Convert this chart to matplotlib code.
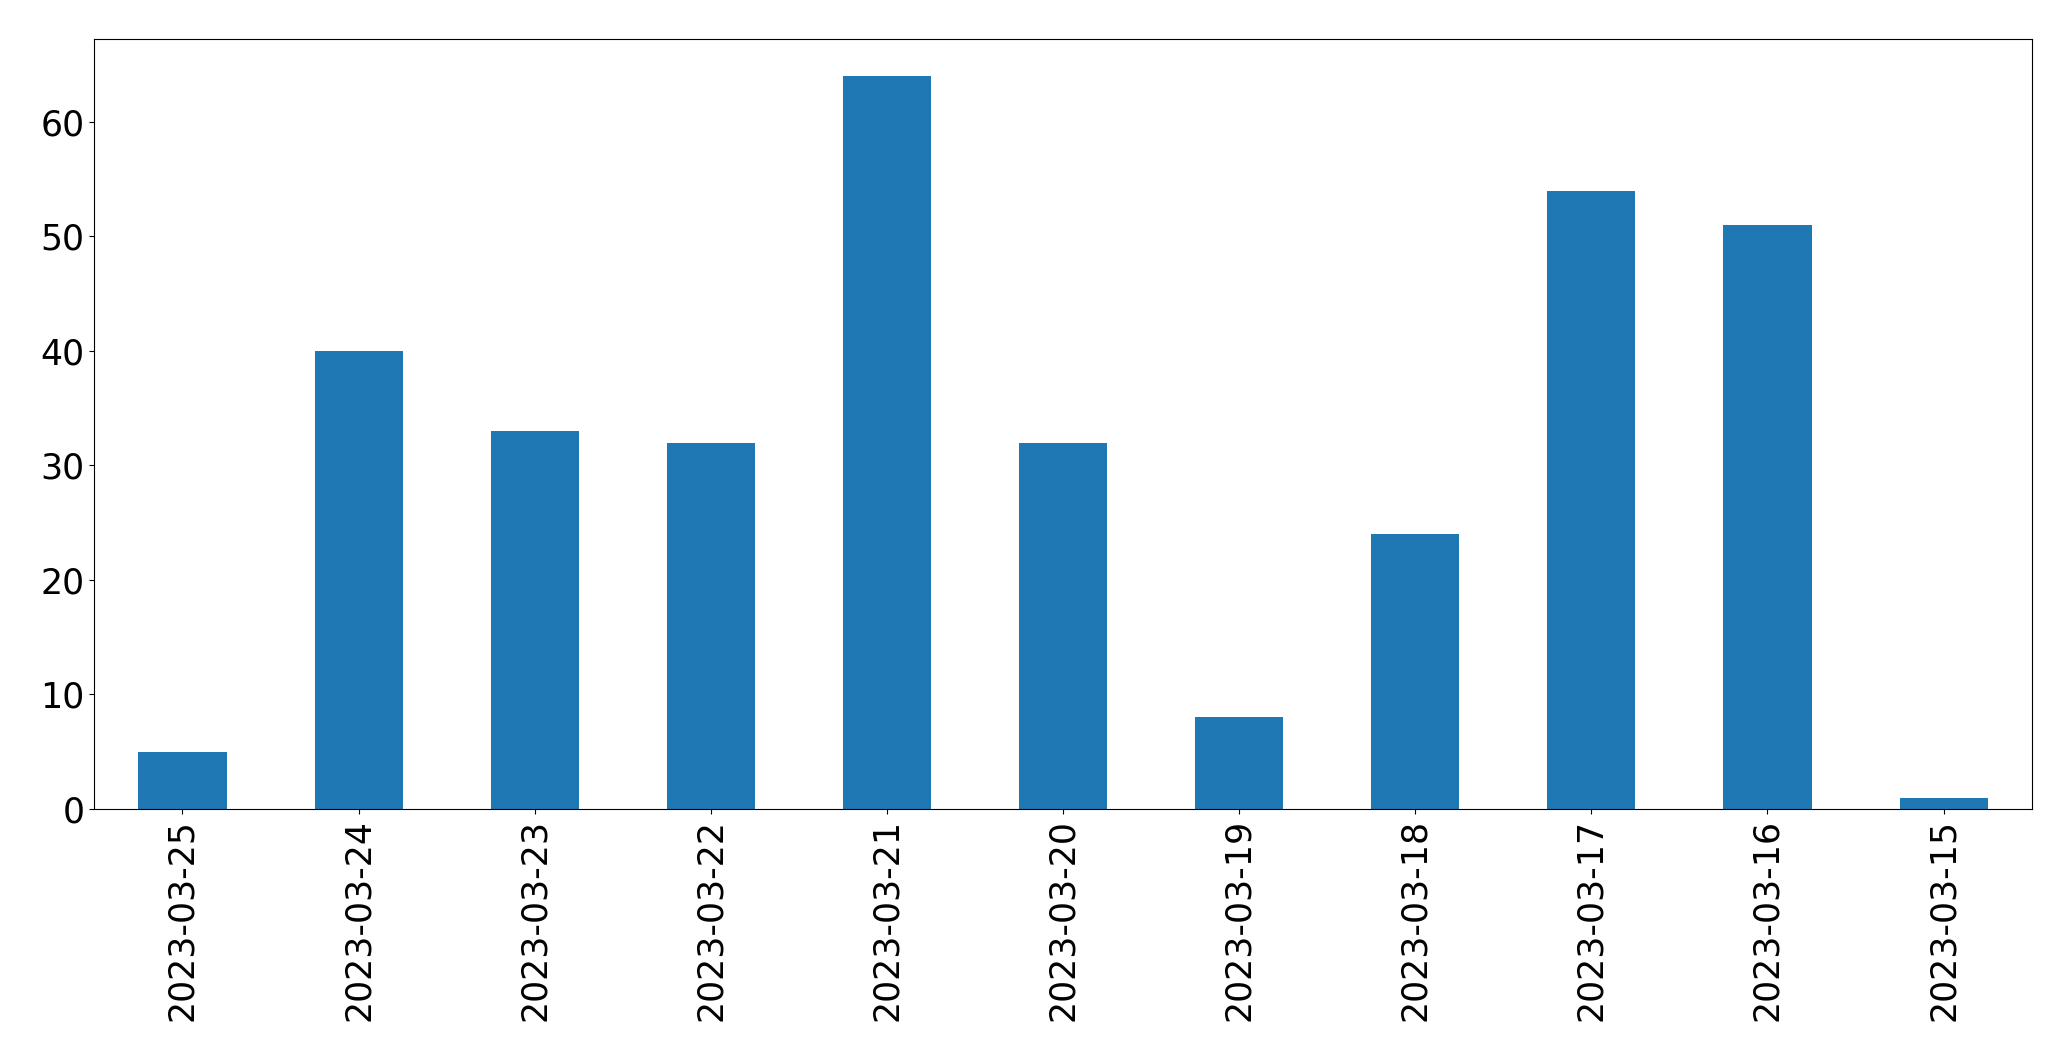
import matplotlib
matplotlib.use("Agg")
import matplotlib.pyplot as plt

dates = ["2023-03-25", "2023-03-24", "2023-03-23", "2023-03-22", "2023-03-21",
         "2023-03-20", "2023-03-19", "2023-03-18", "2023-03-17", "2023-03-16",
         "2023-03-15"]
counts = [5, 40, 33, 32, 64, 32, 8, 24, 54, 51, 1]

fig = plt.figure(figsize=(20.71, 10.61), dpi=100)
ax = fig.add_axes([0.0456, 0.2375, 0.981 - 0.0456, 0.9628 - 0.2375])
x = list(range(len(dates)))
ax.bar(x, counts, width=0.5, color="#1f77b4")
ax.set_xlim(-0.5, len(dates) - 0.5)
ax.set_ylim(0, max(counts) * 1.05)
ax.set_xticks(x)
ax.set_xticklabels(dates, rotation=90)
ax.tick_params(axis="both", labelsize=25)
fig.savefig("out.png", dpi=100)
